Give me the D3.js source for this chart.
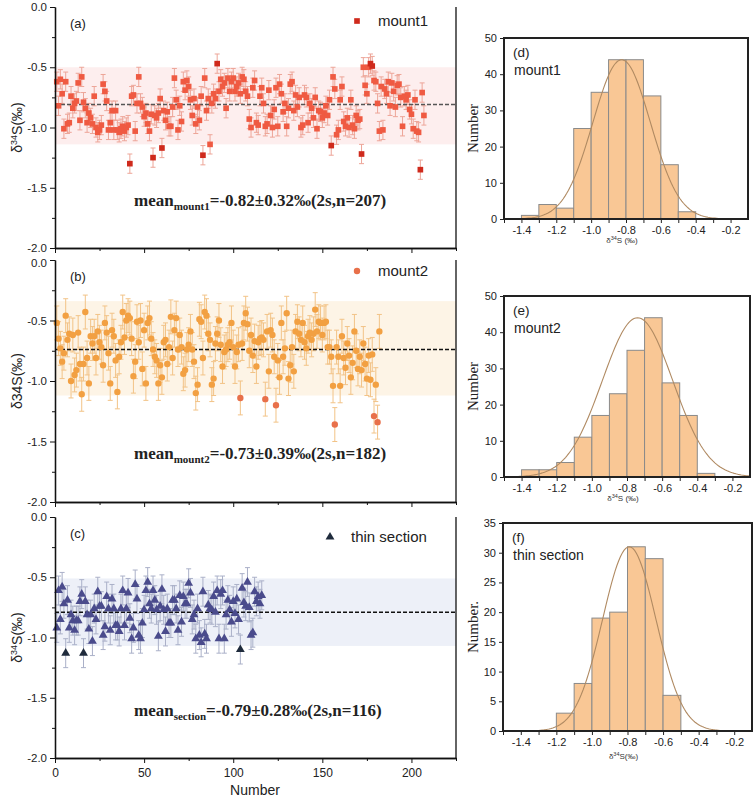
<!DOCTYPE html>
<html><head><meta charset="utf-8">
<script src="https://cdn.jsdelivr.net/npm/d3@7"></script>
<style>body{margin:0;background:#fff}</style>
</head><body>
<svg id="c" width="756" height="798"></svg>
<script>
// ---------------- DATA ----------------
const mount1 = [
-0.62,-0.82,-0.60,-0.72,-1.01,-0.62,-0.97,-0.96,-0.74,-0.84,
-0.80,-0.78,-0.63,-0.94,-0.58,-0.79,-0.84,-0.96,-0.88,-0.92,
-0.97,-0.74,-1.00,-1.04,-1.02,-0.98,-0.64,-0.70,-0.78,-1.02,
-0.96,-0.86,-1.02,-0.86,-1.02,-1.04,-1.01,-0.99,-1.03,-1.00,
-0.98,-1.30,-0.74,-0.73,-1.03,-0.80,-0.58,-0.80,-0.83,-0.91,
-0.88,-0.97,-1.03,-0.89,-1.25,-0.90,-0.92,-0.88,-0.76,-1.17,
-0.86,-0.94,-0.87,-0.99,-0.99,-0.83,-0.59,-0.77,-1.02,-0.82,
-0.95,-0.62,-0.69,-0.61,-0.66,-0.77,-0.90,-0.76,-0.97,-0.83,
-0.94,-0.74,-1.23,-0.59,-0.86,-0.76,-1.14,-0.80,-0.72,-0.76,
-0.47,-0.70,-0.60,-0.66,-0.63,-0.84,-0.59,-0.70,-0.62,-0.59,
-0.70,-0.66,-0.63,-0.72,-0.58,-0.60,-0.70,-0.74,-0.93,-1.00,
-0.67,-0.61,-0.96,-0.98,-0.74,-0.67,-0.80,-0.99,-0.97,-0.69,
-0.90,-1.00,-0.85,-0.67,-0.99,-0.64,-0.72,-0.87,-0.80,-0.99,
-0.84,-0.64,-0.62,-0.86,-0.73,-0.83,-0.75,-1.00,-0.98,-0.73,
-0.75,-0.96,-0.80,-0.84,-0.92,-0.75,-1.01,-0.86,-0.87,-0.92,
-0.88,-0.82,-0.90,-0.77,-1.15,-0.58,-0.68,-1.06,-1.02,-0.77,
-0.66,-0.95,-0.99,-0.92,-1.00,-0.77,-0.98,-1.01,-0.90,-0.94,
-0.93,-1.22,-0.50,-0.65,-0.72,-0.50,-0.47,-0.49,-0.61,-0.62,
-0.80,-1.03,-0.66,-1.02,-0.68,-0.72,-0.62,-0.82,-0.63,-0.70,
-0.83,-0.65,-0.64,-0.75,-0.99,-0.74,-0.77,-0.73,-0.85,-0.89,
-1.01,-0.77,-1.03,-1.04,-1.35,-0.71,-0.90
];
const mount2 = [
-0.52,-0.65,-0.73,-0.84,-0.77,-0.46,-0.66,-0.61,-1.00,-0.62,
-0.95,-0.91,-0.60,-0.86,-1.11,-0.86,-0.43,-0.81,-1.02,-0.63,
-0.69,-0.63,-0.81,-0.59,-0.68,-0.72,-0.87,-0.52,-0.60,-0.77,
-1.02,-0.58,-0.63,-0.83,-1.09,-0.80,-0.68,-0.43,-0.64,-0.50,
-0.46,-0.48,-0.65,-0.96,-0.84,-0.51,-0.68,-0.50,-0.90,-0.58,
-1.02,-0.52,-0.48,-0.65,-0.74,-0.80,-0.83,-1.02,-0.87,-0.97,
-0.68,-0.66,-0.86,-0.72,-0.47,-0.81,-0.58,-0.48,-0.74,-0.62,
-0.72,-0.94,-0.91,-0.74,-0.70,-0.59,-0.74,-0.84,-1.10,-1.03,
-0.49,-0.51,-0.81,-0.43,-0.46,-0.61,-0.66,-1.03,-0.98,-0.69,
-0.61,-0.50,-0.70,-0.88,-0.76,-0.74,-0.70,-0.68,-0.52,-0.72,
-0.88,-0.76,-0.70,-1.14,-0.69,-0.52,-0.44,-0.53,-0.75,-0.62,
-0.79,-0.67,-0.88,-0.68,-0.65,-0.64,-0.66,-1.15,-0.59,-0.92,
-0.58,-0.62,-0.80,-1.20,-0.83,-0.97,-0.52,-0.80,-0.73,-0.44,
-0.98,-0.87,-0.72,-0.92,-0.59,-0.51,-0.61,-0.66,-0.52,-0.68,
-0.73,-0.63,-0.60,-0.66,-0.61,-0.41,-0.59,-0.51,-0.52,-0.62,
-0.52,-0.51,-0.72,-0.72,-0.80,-1.04,-1.36,-0.72,-0.80,-1.04,
-0.63,-0.81,-0.89,-0.69,-0.79,-0.97,-0.85,-0.59,-0.75,-0.90,
-0.80,-0.91,-0.69,-0.86,-0.98,-0.79,-0.99,-0.78,-1.29,-1.03,
-1.34,-0.59
];
const thinSection = [
-0.92,-0.61,-0.85,-0.58,-0.72,-1.13,-0.69,-0.92,-0.81,-0.86,
-0.94,-0.86,-0.86,-0.70,-0.64,-1.13,-0.70,-0.81,-0.93,-0.81,
-1.03,-0.76,-0.85,-0.62,-0.74,-0.74,-0.98,-0.91,-0.66,-0.76,
-0.94,-0.68,-0.76,-0.90,-0.90,-0.95,-0.76,-0.61,-0.90,-0.76,
-0.63,-0.84,-1.01,-0.92,-0.56,-0.68,-0.98,-1.01,-0.88,-0.77,
-0.61,-0.54,-0.72,-0.76,-0.61,-0.69,-0.77,-0.99,-0.74,-0.60,
-0.77,-0.95,-0.76,-0.88,-0.88,-0.69,-0.69,-0.76,-0.94,-0.65,
-0.87,-0.66,-0.72,-0.72,-0.55,-0.63,-0.85,-0.81,-1.01,-0.76,
-0.98,-1.04,-0.62,-0.97,-1.01,-0.73,-0.76,-0.77,-0.66,-0.79,
-0.61,-1.01,-0.64,-0.61,-1.01,-0.81,-0.69,-0.77,-0.87,-0.70,
-0.80,-0.68,-0.85,-1.10,-0.59,-0.71,-0.74,-0.54,-0.75,-0.98,
-0.96,-0.62,-0.70,-0.66,-0.72,-0.65
];
const err1 = 0.08, err2 = 0.14, err3 = 0.12;          // 2s error bars
const mean1 = -0.82, sd1 = 0.32;
const mean2 = -0.73, sd2 = 0.39;
const mean3 = -0.79, sd3 = 0.28;
const numberTicks = [0, 50, 100, 150, 200];
const deltaTicks = [0, -0.5, -1.0, -1.5, -2.0];

const hist1Start = -1.4, hist1 = [1, 4, 3, 25, 35, 44, 44, 34, 15, 2];
const hist2Start = -1.4, hist2 = [2, 2, 4, 11, 17, 23, 35, 44, 26, 17, 1];
const hist3Start = -1.2, hist3 = [3, 8, 19, 20, 31, 29, 6];
const fit1 = {mu: -0.825, sigma: 0.165, peak: 44};
const fit2 = {mu: -0.74, sigma: 0.20, peak: 44};
const fit3 = {mu: -0.79, sigma: 0.15, peak: 31};
const histXTicks = [-1.4, -1.2, -1.0, -0.8, -0.6, -0.4, -0.2];

// ---------------- DRAW ----------------
const svg = d3.select("#c");
const SANS = "'Liberation Sans', Arial, sans-serif";
const SERIF = "'Liberation Serif', 'Times New Roman', serif";
const fmt1 = d => d.toFixed(1);

function scatterPanel(o) {
  const g = svg.append("g");
  const x = d3.scaleLinear().domain([0, 225]).range([55, 456]);
  const y = d3.scaleLinear().domain([-2, 0]).range([o.bottom, o.top]);
  g.append("rect").attr("x", x(0)).attr("width", x(225) - x(0))
    .attr("y", y(o.mean + o.sd)).attr("height", y(o.mean - o.sd) - y(o.mean + o.sd))
    .attr("fill", o.band);
  const eb = g.append("g").attr("stroke", o.errColor).attr("stroke-width", 1).attr("fill", "none");
  o.data.forEach((v, i) => {
    const cx = x(i + 1);
    eb.append("line").attr("x1", cx).attr("x2", cx).attr("y1", y(v + o.err)).attr("y2", y(v - o.err));
    eb.append("line").attr("x1", cx - 2.5).attr("x2", cx + 2.5).attr("y1", y(v + o.err)).attr("y2", y(v + o.err));
    eb.append("line").attr("x1", cx - 2.5).attr("x2", cx + 2.5).attr("y1", y(v - o.err)).attr("y2", y(v - o.err));
  });
  g.append("line").attr("x1", x(0)).attr("x2", x(225)).attr("y1", y(o.meanLine)).attr("y2", y(o.meanLine))
    .attr("stroke", o.meanColor).attr("stroke-width", 1.5).attr("stroke-dasharray", "4,2");
  const outside = v => v > o.mean + o.sd || v < o.mean - o.sd;
  g.append("g").selectAll("path").data(o.data).join("path")
    .attr("transform", (v, i) => `translate(${x(i + 1)},${y(v)})`)
    .attr("d", d3.symbol().type(o.symbol).size(o.size))
    .attr("fill", v => outside(v) ? o.outColor : o.color);
  const left = g.append("g").attr("transform", `translate(${x(0)},0)`)
    .call(d3.axisLeft(y).tickValues(deltaTicks).tickFormat(fmt1).tickSize(5).tickSizeOuter(0));
  g.append("g").attr("transform", `translate(${x(0)},0)`)
    .call(d3.axisLeft(y).tickValues([-0.25, -0.75, -1.25, -1.75]).tickFormat("").tickSize(3).tickSizeOuter(0));
  left.selectAll("text").attr("font-family", SANS).attr("font-size", 11.5).attr("fill", "#222");
  if (o.shiftTop) left.selectAll(".tick").filter(d => d === 0).select("text").attr("dy", "0.55em");
  const bottom = g.append("g").attr("transform", `translate(0,${o.bottom})`)
    .call(d3.axisBottom(x).tickValues(numberTicks).tickFormat(o.showX ? d3.format("d") : "").tickSize(5).tickSizeOuter(0));
  g.append("g").attr("transform", `translate(0,${o.bottom})`)
    .call(d3.axisBottom(x).tickValues([25, 75, 125, 175, 225]).tickFormat("").tickSize(3).tickSizeOuter(0));
  bottom.selectAll("text").attr("font-family", SANS).attr("font-size", 12).attr("fill", "#222").attr("dy", "0.9em");
  g.selectAll(".domain").attr("stroke", "#111").attr("stroke-width", 1.3);
  g.selectAll(".tick line").attr("stroke", "#111");
  g.append("line").attr("x1", x(225)).attr("x2", x(225)).attr("y1", o.top).attr("y2", o.bottom)
    .attr("stroke", "#111").attr("stroke-width", 1.3);
  g.append("text").attr("x", 70).attr("y", o.top + 21).text(o.label)
    .attr("font-family", SANS).attr("font-size", 13).attr("fill", "#222");
  g.append("path").attr("transform", `translate(${o.legX},${o.top + o.legDy})`)
    .attr("d", d3.symbol().type(o.symbol).size(o.size)).attr("fill", o.outColor);
  g.append("text").attr("x", o.legX + 21).attr("y", o.top + o.legDy + 5).text(o.name)
    .attr("font-family", SANS).attr("font-size", 15).attr("fill", "#222");
  const yt = g.append("text").attr("transform", `translate(22,${(o.top + o.bottom) / 2}) rotate(-90)`)
    .attr("text-anchor", "middle").attr("font-family", SANS).attr("font-size", 14).attr("fill", "#222");
  if (o.sup) {
    yt.append("tspan").text("δ");
    yt.append("tspan").text("34").attr("font-size", 9).attr("baseline-shift", "super");
    yt.append("tspan").text("S(‰)");
  } else {
    yt.text("δ34S(‰)");
  }
  const mt = g.append("text").attr("x", 134).attr("y", o.top + 199)
    .attr("font-family", SERIF).attr("font-weight", "bold").attr("font-size", 17).attr("fill", "#222");
  mt.append("tspan").text("mean");
  mt.append("tspan").text(o.sub).attr("font-size", 11).attr("dy", 4);
  mt.append("tspan").text(`=${o.mean.toFixed(2)}±${o.sd.toFixed(2)}‰(2s,n=${o.data.length})`).attr("dy", -4);
  if (o.showX) {
    g.append("text").attr("x", 255).attr("y", 795).attr("text-anchor", "middle")
      .attr("font-family", SANS).attr("font-size", 14).attr("fill", "#222").text("Number");
  }
}

scatterPanel({top: 7, bottom: 248, data: mount1, err: err1, mean: mean1, sd: sd1, meanLine: -0.81,
  band: "#fdeeee", errColor: "#eda598", meanColor: "#555", color: "#ef5a42", outColor: "#cf2a1c",
  symbol: d3.symbolSquare, size: 32, label: "(a)", name: "mount1", legX: 357, legDy: 14,
  sub: "mount1", sup: true, showX: false, shiftTop: false});
scatterPanel({top: 260, bottom: 502, data: mount2, err: err2, mean: mean2, sd: sd2, meanLine: -0.74,
  band: "#fdf4e6", errColor: "#f2c387", meanColor: "#111", color: "#f2a042", outColor: "#e8704a",
  symbol: d3.symbolCircle, size: 32, label: "(b)", name: "mount2", legX: 357, legDy: 11,
  sub: "mount2", sup: false, showX: false, shiftTop: true});
scatterPanel({top: 517, bottom: 758, data: thinSection, err: err3, mean: mean3, sd: sd3, meanLine: -0.79,
  band: "#edf0f8", errColor: "#aab0c8", meanColor: "#111", color: "#4a4b8c", outColor: "#1f2b3c",
  symbol: d3.symbolTriangle, size: 34, label: "(c)", name: "thin section", legX: 330, legDy: 20,
  sub: "section", sup: true, showX: true, shiftTop: false});

function histPanel(o) {
  const g = svg.append("g");
  const x = d3.scaleLinear().domain([-1.5, -0.1]).range([o.left, o.right]);
  const y = d3.scaleLinear().domain([0, o.ymax]).range([o.bottom, o.top]);
  const cp = "clip" + o.label.replace(/\W/g, "");
  g.append("clipPath").attr("id", cp).append("rect")
    .attr("x", o.left).attr("y", o.top).attr("width", o.right - o.left).attr("height", o.bottom - o.top);
  g.append("g").selectAll("rect").data(o.counts).join("rect")
    .attr("x", (c, i) => x(o.start + i * 0.1)).attr("width", (c, i) => x(o.start + (i + 1) * 0.1) - x(o.start + i * 0.1))
    .attr("y", c => y(c)).attr("height", c => o.bottom - y(c))
    .attr("fill", "#f9c795").attr("stroke", "#8a8a8a").attr("stroke-width", 1);
  const xs = d3.range(0, 141).map(k => -1.5 + k * 0.01);
  g.append("path").attr("clip-path", `url(#${cp})`)
    .attr("d", d3.line().x(v => x(v)).y(v => y(o.fit.peak * Math.exp(-((v - o.fit.mu) ** 2) / (2 * o.fit.sigma ** 2))))(xs))
    .attr("fill", "none").attr("stroke", "#b08a62").attr("stroke-width", 1.1);
  const xa = g.append("g").attr("transform", `translate(0,${o.bottom})`)
    .call(d3.axisBottom(x).tickValues(histXTicks).tickFormat(fmt1).tickSize(4).tickSizeOuter(0));
  g.append("g").attr("transform", `translate(0,${o.bottom})`)
    .call(d3.axisBottom(x).tickValues([-1.5, -1.3, -1.1, -0.9, -0.7, -0.5, -0.3]).tickFormat("").tickSize(4).tickSizeOuter(0));
  xa.selectAll("text").attr("font-family", SANS).attr("font-size", 11).attr("fill", "#222");
  const ya = g.append("g").attr("transform", `translate(${o.left},0)`)
    .call(d3.axisLeft(y).tickValues(o.yTicks).tickFormat(d3.format("d")).tickSize(4).tickSizeOuter(0));
  ya.selectAll("text").attr("font-family", SANS).attr("font-size", 11).attr("fill", "#222");
  g.selectAll(".domain").attr("stroke", "none");
  g.selectAll(".tick line").attr("stroke", "#222");
  g.append("rect").attr("x", o.left).attr("y", o.top).attr("width", o.right - o.left).attr("height", o.bottom - o.top)
    .attr("fill", "none").attr("stroke", "#222").attr("stroke-width", 2);
  g.append("text").attr("x", o.left + 9).attr("y", o.top + 19).text(o.label)
    .attr("font-family", SANS).attr("font-size", 13.5).attr("fill", "#222");
  g.append("text").attr("x", o.left + 10).attr("y", o.top + 37).text(o.name)
    .attr("font-family", SANS).attr("font-size", 14).attr("fill", "#222");
  g.append("text").attr("transform", `translate(478,${(o.top + o.bottom) / 2}) rotate(-90)`)
    .attr("text-anchor", "middle").attr("font-family", SERIF).attr("font-size", 15).attr("fill", "#222").text(o.ytitle);
  const xt = g.append("text").attr("x", (o.left + o.right) / 2 - 4).attr("y", o.bottom + o.xtDy)
    .attr("text-anchor", "middle").attr("font-family", SANS).attr("font-size", 8).attr("fill", "#333");
  xt.append("tspan").text("δ");
  xt.append("tspan").text("34").attr("font-size", 5.5).attr("baseline-shift", "super");
  xt.append("tspan").text(o.xsp ? "S (‰)" : "S(‰)");
}

histPanel({left: 504, right: 748, top: 38, bottom: 219, ymax: 50, yTicks: [0, 10, 20, 30, 40, 50],
  start: hist1Start, counts: hist1, fit: fit1, label: "(d)", name: "mount1", ytitle: "Number", xtDy: 24, xsp: true});
histPanel({left: 504, right: 750, top: 296, bottom: 477, ymax: 50, yTicks: [0, 10, 20, 30, 40, 50],
  start: hist2Start, counts: hist2, fit: fit2, label: "(e)", name: "mount2", ytitle: "Number", xtDy: 24, xsp: true});
histPanel({left: 503, right: 752, top: 523, bottom: 731, ymax: 35, yTicks: [0, 5, 10, 15, 20, 25, 30, 35],
  start: hist3Start, counts: hist3, fit: fit3, label: "(f)", name: "thin section", ytitle: "Number.", xtDy: 28, xsp: false});
</script>
</body></html>
